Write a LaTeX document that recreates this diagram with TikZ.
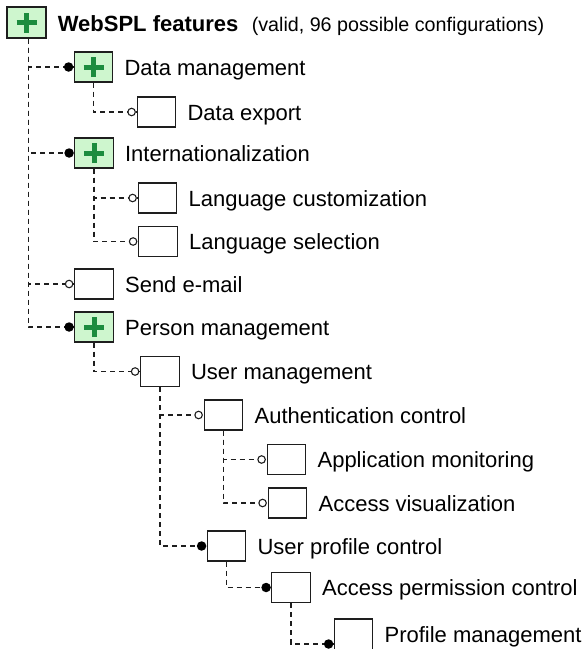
\documentclass[tikz,border=0pt]{standalone}
\usepackage{fontspec}
\setmainfont{Liberation Sans}
\definecolor{boxfill}{RGB}{206,246,206}
\definecolor{plusgreen}{RGB}{28,140,62}
\definecolor{edge}{RGB}{30,30,30}
\tikzset{
  feat/.style={draw=edge, line width=1.3pt, fill=white, minimum width=38.5pt, minimum height=30pt, inner sep=0pt},
  featplus/.style={feat, fill=boxfill, path picture={
      \draw[plusgreen, line width=5pt] ([xshift=-10pt]path picture bounding box.center) -- ([xshift=10pt]path picture bounding box.center);
      \draw[plusgreen, line width=5pt] ([yshift=-10pt]path picture bounding box.center) -- ([yshift=10pt]path picture bounding box.center);}},
  lbl/.style={anchor=base west, inner sep=0pt, font=\fontsize{22}{26}\selectfont},
  conn/.style={draw=edge, line width=1.1pt, dash pattern=on 5pt off 4pt},
  dotm/.style={solid, circle, fill=black, draw=none, inner sep=0pt, minimum size=9.5pt, xshift=-5pt},
  doto/.style={solid, circle, fill=white, draw=edge, line width=1.1pt, inner sep=0pt, minimum size=7.5pt, xshift=-5pt},
}
\begin{document}
\begin{tikzpicture}[x=1pt, y=-1pt]
\useasboundingbox (0,0) rectangle (587,649);
% boxes
\node[featplus, minimum width=39pt, minimum height=31pt] (root) at (26.5,22.5) {};
\node[featplus] (dm)  at (93.5,67) {};
\node[feat] (de)  at (156.5,112) {};
\node[featplus] (intl) at (94,153) {};
\node[feat] (lc)  at (157.5,198) {};
\node[feat] (ls)  at (158,241.5) {};
\node[feat] (se)  at (94,284) {};
\node[featplus] (pm)  at (94,327) {};
\node[feat] (um)  at (160,371.5) {};
\node[feat] (ac)  at (223.5,415) {};
\node[feat] (am)  at (286.5,459.5) {};
\node[feat] (av)  at (287.5,503) {};
\node[feat] (upc) at (226.5,546) {};
\node[feat] (apc) at (291,587.5) {};
\node[feat, minimum height=40pt] (prm) at (353.5,639) {};
\coordinate (prmin) at ([yshift=-5pt]prm.west);
% labels
\node[lbl, font=\fontsize{22}{26}\selectfont\bfseries] (lroot) at ([xshift=11pt,yshift=-9pt]root.east) {WebSPL features};
\node[anchor=base west, inner sep=0pt, font=\fontsize{19.7}{24}\selectfont] (lsub) at ([xshift=13pt]lroot.base east) {(valid, 96 possible configurations)};
\node[lbl] (ldm)  at ([xshift=11pt,yshift=-8pt]dm.east) {Data management};
\node[lbl] (lde)  at ([xshift=11pt,yshift=-8pt]de.east) {Data export};
\node[lbl] (lintl) at ([xshift=11pt,yshift=-8pt]intl.east) {Internationalization};
\node[lbl] (llc)  at ([xshift=11pt,yshift=-8pt]lc.east) {Language customization};
\node[lbl] (lls)  at ([xshift=11pt,yshift=-8pt]ls.east) {Language selection};
\node[lbl] (lse)  at ([xshift=11pt,yshift=-8pt]se.east) {Send e-mail};
\node[lbl] (lpm)  at ([xshift=11pt,yshift=-8pt]pm.east) {Person management};
\node[lbl] (lum)  at ([xshift=11pt,yshift=-8pt]um.east) {User management};
\node[lbl] (lac)  at ([xshift=11pt,yshift=-8pt]ac.east) {Authentication control};
\node[lbl] (lam)  at ([xshift=11pt,yshift=-8pt]am.east) {Application monitoring};
\node[lbl] (lav)  at ([xshift=11pt,yshift=-8pt]av.east) {Access visualization};
\node[lbl] (lupc) at ([xshift=11pt,yshift=-8pt]upc.east) {User profile control};
\node[lbl] (lapc) at ([xshift=11pt,yshift=-8pt]apc.east) {Access permission control};
\node[lbl] (lprm) at ([xshift=11pt,yshift=-3pt]prm.east) {Profile management};
% connectors
\draw[conn] ([xshift=2pt]root.south) |- (dm.west) node[pos=1, dotm] (k1) {};
\draw[conn] ([xshift=2pt]root.south) |- (intl.west) node[pos=1, dotm] (k2) {};
\draw[conn] ([xshift=2pt]root.south) |- (se.west) node[pos=1, doto] (k3) {};
\draw[conn] ([xshift=2pt]root.south) |- (pm.west) node[pos=1, dotm] (k4) {};
\draw[conn] (dm.south) |- (de.west) node[pos=1, doto] (k5) {};
\draw[conn] (intl.south) |- (lc.west) node[pos=1, doto] (k6) {};
\draw[conn] (intl.south) |- (ls.west) node[pos=1, doto] (k7) {};
\draw[conn] (pm.south) |- (um.west) node[pos=1, doto] (k8) {};
\draw[conn] (um.south) |- (ac.west) node[pos=1, doto] (k9) {};
\draw[conn] (um.south) |- (upc.west) node[pos=1, dotm] (k10) {};
\draw[conn] (ac.south) |- (am.west) node[pos=1, doto] (k11) {};
\draw[conn] (ac.south) |- (av.west) node[pos=1, doto] (k12) {};
\draw[conn] (upc.south) |- (apc.west) node[pos=1, dotm] (k13) {};
\draw[conn] (apc.south) |- (prmin) node[pos=1, dotm] (k14) {};
\end{tikzpicture}
\end{document}
